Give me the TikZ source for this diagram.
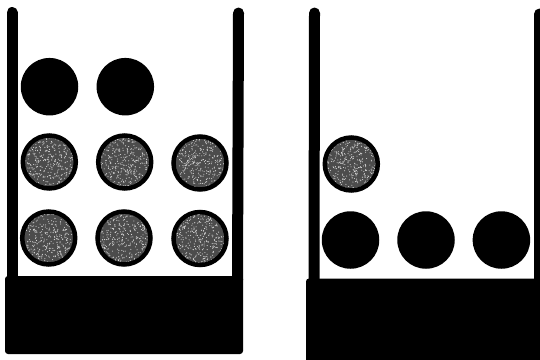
\documentclass[tikz,border=0pt]{standalone}
\begin{document}
\begin{tikzpicture}[x=1pt,y=-1pt,
  wall/.style={line width=11pt,line cap=round},
  basebox/.style={fill=black,rounded corners=3pt},
  blackball/.style={circle,fill=black,inner sep=0pt,minimum size=57.5pt},
  grayball/.style={circle,fill=black!70,draw=black,line width=4.5pt,inner sep=0pt,minimum size=53pt,
    path picture={\foreach \i in {1,...,380}{\fill[white!85!black] ([shift={(rand*25,rand*25)}]path picture bounding box.center) circle (0.55pt);}}}]
\pgfmathsetseed{7}
\useasboundingbox (0,0) rectangle (540,359);
\clip (0,0) rectangle (540,359);
% left container
\coordinate (lwt) at (12,12.5);
\coordinate (lwb) at (12,280);
\coordinate (rwt) at (238.5,13);
\coordinate (rwb) at (237.5,280);
\draw[wall] (lwt) -- (lwb);
\draw[wall] (rwt) -- (rwb);
\path[basebox] (5,276) rectangle (243,354);
\node[blackball] (a1) at (49.5,86.7) {};
\node[blackball] (a2) at (125.3,86.7) {};
\node[grayball] (b1) at (49.3,162) {};
\node[grayball] (b2) at (124.7,162) {};
\node[grayball] (b3) at (200,163) {};
\node[grayball] (c1) at (48.7,238) {};
\node[grayball] (c2) at (124,238) {};
\node[grayball] (c3) at (200,238.5) {};
% right container
\coordinate (Lwt) at (314.5,13);
\coordinate (Lwb) at (314,282);
\coordinate (Rwt) at (539.5,14);
\coordinate (Rwb) at (539.5,282);
\draw[wall] (Lwt) -- (Lwb);
\draw[wall] (Rwt) -- (Rwb);
\path[basebox] (306,278.5) rectangle (548,365);
\node[grayball] (d1) at (351.3,164) {};
\node[blackball] (e1) at (350.5,240) {};
\node[blackball] (e2) at (426,240) {};
\node[blackball] (e3) at (501.4,240) {};
\end{tikzpicture}
\end{document}
